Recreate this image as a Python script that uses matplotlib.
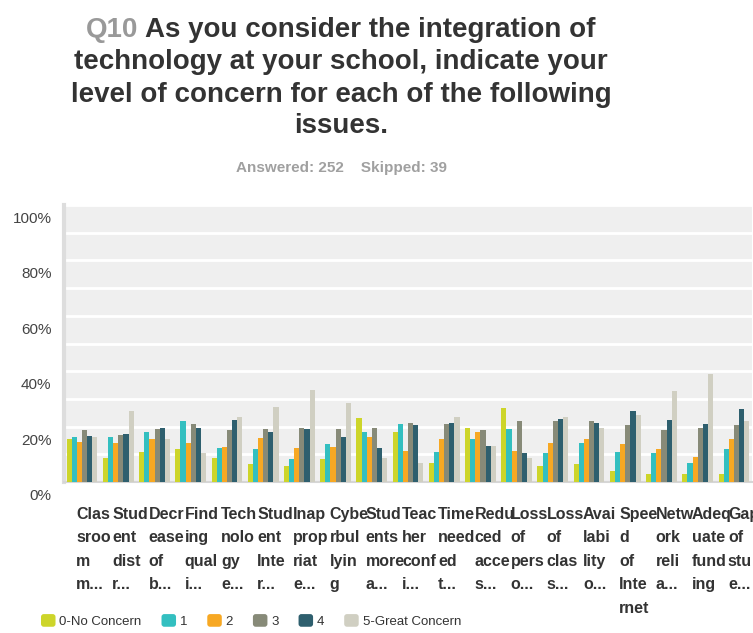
import numpy as np
import matplotlib
matplotlib.use("Agg")
import matplotlib.pyplot as plt
from matplotlib import font_manager
from matplotlib.patches import Patch, FancyBboxPatch
from matplotlib.legend_handler import HandlerPatch
from matplotlib.transforms import ScaledTranslation

plt.rcParams['font.family'] = ['Liberation Sans', 'DejaVu Sans']

# issue labels, already wrapped the way the survey tool cut them
issues = [
    "Clas\nsroo\nm\nm...", "Stud\nent\ndist\nr...", "Decr\nease\nof\nb...",
    "Find\ning\nqual\ni...", "Tech\nnolo\ngy\ne...", "Stud\nent\nInte\nr...",
    "Inap\nprop\nriat\ne...", "Cybe\nrbul\nlyin\ng", "Stud\nents\nmore\na...",
    "Teac\nher\nconf\ni...", "Time\nneed\ned\nt...", "Redu\nced\nacce\ns...",
    "Loss\nof\npers\no...", "Loss\nof\nclas\ns...", "Avai\nlabi\nlity\no...",
    "Spee\nd\nof\nInte\nrnet", "Netw\nork\nreli\na...", "Adeq\nuate\nfund\ning",
    "Gap\nof\nstu\ne...",
]

levels = ["0-No Concern", "1", "2", "3", "4", "5-Great Concern"]
colors = ["#cdd52a", "#33bfc0", "#f7a823", "#878a78", "#2e5f6e", "#d0cfc2"]

# percent of respondents per concern level, one list per level
no_concern = [15.4, 8.7, 10.8, 11.8, 8.7, 6.4, 5.9, 8.2, 23.1, 18.2, 6.7, 19.5, 26.8, 5.9, 6.4, 4.1, 2.8, 2.8, 2.8]
level_1 = [16.4, 16.4, 18.2, 21.9, 12.3, 11.8, 8.2, 13.6, 18.2, 20.9, 11.0, 15.4, 19.1, 10.5, 14.1, 11.0, 10.5, 6.7, 11.8]
level_2 = [14.6, 14.1, 15.4, 14.1, 12.8, 15.9, 12.3, 12.8, 16.4, 11.3, 15.4, 18.2, 11.3, 14.1, 15.4, 13.6, 11.8, 9.1, 15.4]
level_3 = [18.7, 16.8, 19.1, 20.9, 18.7, 19.1, 19.5, 19.1, 19.5, 21.4, 20.9, 18.7, 21.9, 21.9, 21.9, 20.5, 18.7, 19.5, 20.5]
level_4 = [16.7, 17.2, 19.5, 19.5, 22.4, 18.2, 19.1, 16.4, 12.3, 20.5, 21.4, 13.1, 10.5, 22.7, 21.4, 25.5, 22.3, 20.9, 26.4]
great_concern = [16.4, 25.5, 15.4, 10.3, 23.6, 27.2, 33.2, 28.6, 8.7, 6.7, 23.6, 13.1, 8.7, 23.6, 19.5, 24.1, 32.7, 39.1, 21.9]

answered = 252
skipped = 39

series = [no_concern, level_1, level_2, level_3, level_4, great_concern]


class RoundBox(HandlerPatch):
    def create_artists(self, legend, orig_handle, xdescent, ydescent,
                       width, height, fontsize, trans):
        box = FancyBboxPatch((-xdescent, -ydescent), width, height,
                             boxstyle="round,pad=0,rounding_size=2",
                             fc=orig_handle.get_facecolor(), ec="none",
                             transform=trans)
        return [box]


# condensed face for the legend if there is one
installed = {f.name for f in font_manager.fontManager.ttflist}
if "Liberation Sans Narrow" in installed:
    legend_font = {"family": "Liberation Sans Narrow", "size": 11}
else:
    legend_font = {"family": "Liberation Sans", "size": 9.5}

fig = plt.figure(figsize=(7.53, 6.33), dpi=100)
W, H = 753, 633
ax = fig.add_axes([64 / W, 1 - 482 / H, 688 / W, 277 / H])

x = np.arange(len(issues))
bw = 0.85 / len(series)
for i, (vals, col, name) in enumerate(zip(series, colors, levels)):
    ax.bar(x - 0.425 + bw * (i + 0.5), vals, width=bw, color=col,
           label=name, zorder=3)

ax.set_facecolor("#efefef")
ax.set_xlim(-0.5, len(issues) - 0.5)
ax.set_ylim(0, 100)
ax.set_yticks(np.arange(0, 101, 10))
ax.set_yticklabels([f"{v}%" if v % 20 == 0 else "" for v in range(0, 101, 10)])
ax.grid(axis="y", color="white", lw=2, zorder=1)
ax.tick_params(axis="y", length=0, pad=9, labelsize=11, labelcolor="#444444")
for lab in ax.get_yticklabels():
    lab.set_transform(lab.get_transform() + ScaledTranslation(0, -9 / 72, fig.dpi_scale_trans))

ax.set_xticks(x)
ax.set_xticklabels(issues, fontsize=11.5, fontweight="bold", color="#333333",
                   ha="left", va="top", linespacing=1.7)
ax.tick_params(axis="x", length=0, pad=18)
for lab in ax.get_xticklabels():
    lab.set_transform(lab.get_transform() + ScaledTranslation(-6 / 100, 0, fig.dpi_scale_trans))

for side in ["top", "right"]:
    ax.spines[side].set_visible(False)
ax.spines["left"].set_color("#dddddd")
ax.spines["left"].set_linewidth(3)
ax.spines["bottom"].set_color("#d6d6d6")
ax.spines["bottom"].set_linewidth(1.5)

# title: grey question number followed by dark question text
title_lines = [
    "Q10 As you consider the integration of",
    "technology at your school, indicate your",
    "level of concern for each of the following",
    "issues.",
]
baselines = [37, 69, 102, 133]
cx = 341 / W
tsize = 20
tkw = dict(fontsize=tsize, fontweight="bold", ha="center", va="baseline")
renderer = fig.canvas.get_renderer()
first = fig.text(cx, 1 - baselines[0] / H, title_lines[0], color="#333333", **tkw)
bb = first.get_window_extent(renderer)
first.remove()
fig.text(bb.x0 / W, 1 - baselines[0] / H, "Q10", color="#999999",
         fontsize=tsize, fontweight="bold", ha="left", va="baseline")
fig.text(bb.x1 / W, 1 - baselines[0] / H, title_lines[0][4:], color="#333333",
         fontsize=tsize, fontweight="bold", ha="right", va="baseline")
for line, b in zip(title_lines[1:], baselines[1:]):
    fig.text(cx, 1 - b / H, line, color="#333333", **tkw)

fig.text(cx, 1 - 172 / H, f"Answered: {answered}    Skipped: {skipped}",
         color="#a0a0a0", fontsize=11, fontweight="bold", ha="center", va="baseline")

handles = [Patch(facecolor=c) for c in colors]
fig.legend(handles, levels, loc="center left", bbox_to_anchor=(41 / W, 1 - 621 / H),
           ncol=6, frameon=False, handlelength=1.1, handleheight=1.1,
           handletextpad=0.3, columnspacing=1.5,
           prop=legend_font, borderaxespad=0, borderpad=0,
           labelcolor="#333333", handler_map={Patch: RoundBox()})

fig.savefig("out.png", dpi=100)
